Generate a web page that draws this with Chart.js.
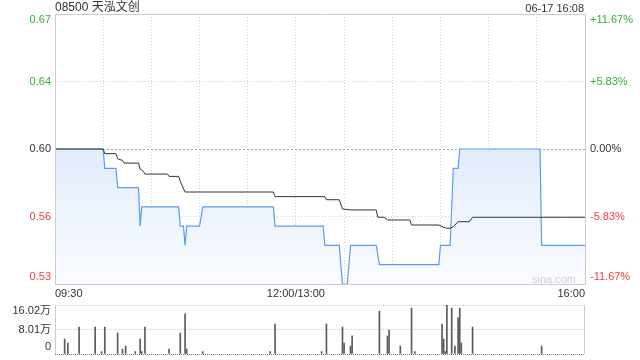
<!DOCTYPE html>
<html>
<head>
<meta charset="utf-8">
<script src="https://cdn.jsdelivr.net/npm/chart.js@4"></script>
<style>
  body { margin: 0; background: #fff; font-family: Arial, "Liberation Sans", "Noto Sans CJK SC", sans-serif; }
  #wrap { position: relative; width: 640px; height: 360px; overflow: hidden; }
  .txt { position: absolute; color: #333; white-space: nowrap; line-height: 14px; }
  #title { left: 55px; top: 0px; font-size: 12px; }
  #stamp { right: 56px; top: 1px; font-size: 11px; }
  #mark { left: 532px; top: 272px; font-size: 11px; color: #d0d0d0; }
  #main { position: absolute; left: 0; top: 0; }
  #vol { position: absolute; left: 0; top: 295px; }
</style>
</head>
<body>
<div id="wrap">
  <canvas id="main" width="640" height="300"></canvas>
  <canvas id="vol" width="640" height="65"></canvas>
  <div class="txt" id="title">08500 天泓文创</div>
  <div class="txt" id="stamp">06-17 16:08</div>
  <div class="txt" id="mark">sina.com</div>
</div>
<script>
// minutes since 09:30, lunch break removed (0..330)
const prevClose = 0.60;
const priceTicks = [0.53, 0.565, 0.60, 0.635, 0.67];
const priceTickLabels = ["0.53", "0.56", "0.60", "0.64", "0.67"];
const pctTickLabels = ["-11.67%", "-5.83%", "0.00%", "+5.83%", "+11.67%"];
const timeTicks = [0, 30, 60, 90, 120, 150, 180, 210, 240, 270, 300, 330];
const timeTickLabels = ["09:30", "", "", "", "", "12:00/13:00", "", "", "", "", "", "16:00"];

const priceMinutes = [0, 30, 31, 38, 39, 52, 53, 54, 77, 78, 80, 81, 82, 90, 92, 136, 137, 167, 168, 177, 179, 182, 184, 200, 202, 239, 240, 246, 248, 251, 252, 302, 303, 330];
const priceValues = [0.60, 0.60, 0.59, 0.59, 0.58, 0.58, 0.56, 0.57, 0.57, 0.56, 0.56, 0.55, 0.56, 0.56, 0.57, 0.57, 0.56, 0.56, 0.55, 0.55, 0.53, 0.53, 0.55, 0.55, 0.54, 0.54, 0.55, 0.55, 0.59, 0.59, 0.60, 0.60, 0.55, 0.55];

const avgMinutes = [0, 30, 31, 38, 39, 42, 43, 52, 53, 55, 56, 70, 71, 77, 78, 81, 136, 137, 168, 169, 177, 179, 184, 200, 201, 205, 207, 221, 222, 239, 241, 244, 246, 248, 251, 258, 260, 330];
const avgValues = [0.600, 0.600, 0.5976, 0.5976, 0.5949, 0.5941, 0.5927, 0.5927, 0.5896, 0.5884, 0.5870, 0.5870, 0.5858, 0.5858, 0.5832, 0.5777, 0.5777, 0.5753, 0.5753, 0.5737, 0.5737, 0.5689, 0.5684, 0.5684, 0.5646, 0.5646, 0.5632, 0.5632, 0.5606, 0.5606, 0.5597, 0.5589, 0.5589, 0.5597, 0.5623, 0.5623, 0.5646, 0.5646];

// volume in 万 shares
const volTicks = [0, 8.01, 16.02];
const volTickLabels = ["0", "8.01万", "16.02万"];
const volMinutes = [6, 8, 15, 25, 29, 31, 39, 42, 44, 50, 53, 54, 56, 71, 78, 81, 82, 92, 134, 137, 166, 169, 179, 180, 184, 185, 202, 207, 208, 215, 222, 224, 241, 242, 243, 244, 247, 249, 251, 252, 253, 260, 303, 330];
const volValues = [4.9, 3.6, 8.8, 8.8, 0.8, 8.8, 6.9, 1.6, 2.6, 0.8, 4.9, 0.8, 8.8, 1.6, 6.9, 13.1, 1.6, 0.8, 0.8, 9.8, 0.8, 9.8, 8.8, 3.6, 2.6, 5.9, 14.0, 5.9, 7.8, 2.6, 15.0, 0.8, 9.8, 4.9, 0.8, 16.0, 15.0, 2.6, 11.8, 15.0, 3.6, 8.8, 2.6, 3.6];

const pricePoints = priceMinutes.map((m, i) => ({ x: m, y: priceValues[i] }));
const avgPoints = avgMinutes.map((m, i) => ({ x: m, y: avgValues[i] }));
const volPoints = volMinutes.map((m, i) => ({ x: m, y: volValues[i] }));

const green = "#2fb32f", red = "#f23d3d", dark = "#333";

// axis labels pinned inside the plot height, like the original
const axisText = {
  id: "axisText",
  afterDraw(chart, args, opts) {
    const { ctx, chartArea: a } = chart;
    const sc = chart.scales.y;
    ctx.save();
    ctx.font = opts.font;
    ctx.textBaseline = "middle";
    opts.ticks.forEach((v, i) => {
      let y = sc.getPixelForValue(v);
      y = Math.min(Math.max(y, a.top + 6), a.bottom - 7);
      ctx.fillStyle = opts.color(v);
      if (opts.left) { ctx.textAlign = "right"; ctx.fillText(opts.left[i], a.left - 4, y); }
      if (opts.right) { ctx.textAlign = "left"; ctx.fillText(opts.right[i], a.right + 5, y); }
    });
    ctx.restore();
  }
};

const frame = {
  id: "frame",
  afterDraw(chart, args, opts) {
    const { ctx, chartArea: a } = chart;
    ctx.save();
    ctx.strokeStyle = "#ccc";
    ctx.lineWidth = 1;
    ctx.beginPath();
    if (opts.box) {
      ctx.rect(Math.round(a.left) + 0.5, Math.round(a.top) + 0.5, Math.round(a.right - a.left), Math.round(a.bottom - a.top));
    } else {
      ctx.moveTo(Math.round(a.left) + 0.5, a.top);
      ctx.lineTo(Math.round(a.left) + 0.5, a.bottom);
      ctx.moveTo(Math.round(a.right) - 0.5, a.top);
      ctx.lineTo(Math.round(a.right) - 0.5, a.bottom);
    }
    ctx.stroke();
    ctx.restore();
  }
};

function priceColor(v) {
  if (Math.abs(v - prevClose) < 1e-6) return dark;
  return v > prevClose ? green : red;
}

new Chart(document.getElementById("main"), {
  type: "line",
  data: {
    datasets: [
      { data: avgPoints, borderColor: "#333", borderWidth: 1, pointRadius: 0, fill: false },
      {
        data: pricePoints, borderColor: "#5b9cf2", borderWidth: 1.2, pointRadius: 0, fill: "start",
        backgroundColor: (c) => {
          const ch = c.chart, a = ch.chartArea;
          if (!a) return "rgba(220,232,250,0.6)";
          const g = ch.ctx.createLinearGradient(0, ch.scales.y.getPixelForValue(prevClose), 0, a.bottom);
          g.addColorStop(0, "rgba(226,236,251,1)");
          g.addColorStop(1, "rgba(250,252,255,1)");
          return g;
        }
      }
    ]
  },
  options: {
    responsive: false,
    animation: false,
    events: [],
    layout: { padding: { top: 14 } },
    plugins: {
      legend: { display: false },
      tooltip: { enabled: false },
      axisText: { ticks: priceTicks, left: priceTickLabels, right: pctTickLabels, color: priceColor, font: "11px Arial, 'Liberation Sans', sans-serif" },
      frame: { box: true }
    },
    scales: {
      x: {
        type: "linear", min: 0, max: 330,
        afterBuildTicks: (s) => { s.ticks = timeTicks.map((v) => ({ value: v })); },
        afterFit: (s) => { s.height = 16; },
        ticks: {
          autoSkip: false, maxRotation: 0, align: "inner", padding: 3, color: dark,
          font: { size: 11, family: "Arial, 'Liberation Sans', sans-serif" },
          callback: (v, i) => timeTickLabels[i]
        },
        grid: { drawTicks: false, color: "#cfcfcf" },
        border: { display: false, dash: [1, 2] }
      },
      y: {
        min: 0.53, max: 0.67,
        afterBuildTicks: (s) => { s.ticks = priceTicks.map((v) => ({ value: v })); },
        afterFit: (s) => { s.width = 55; },
        ticks: { display: false },
        grid: { drawTicks: false, color: (c) => Math.abs(c.tick.value - prevClose) < 1e-6 ? "#aaa" : "#cfcfcf" },
        border: { display: false, dash: (c) => Math.abs(c.tick.value - prevClose) < 1e-6 ? [2, 2] : [1, 2] }
      },
      y2: {
        position: "right", min: 0.53, max: 0.67,
        afterFit: (s) => { s.width = 55; },
        ticks: { display: false },
        grid: { display: false },
        border: { display: false }
      }
    }
  },
  plugins: [axisText, frame]
});

new Chart(document.getElementById("vol"), {
  type: "bar",
  data: {
    datasets: [{ data: volPoints, backgroundColor: "#5a5a5a", barThickness: 1 }]
  },
  options: {
    responsive: false,
    animation: false,
    events: [],
    layout: { padding: { top: 10, bottom: 6 } },
    plugins: {
      legend: { display: false },
      tooltip: { enabled: false },
      axisText: { ticks: volTicks, left: volTickLabels, color: () => dark, font: "11px Arial, 'Liberation Sans', 'Noto Sans CJK SC', sans-serif" },
      frame: { box: false }
    },
    scales: {
      x: {
        type: "linear", min: 0, max: 330, offset: false,
        afterFit: (s) => { s.height = 0; },
        ticks: { display: false },
        grid: { display: false, offset: false },
        border: { display: false }
      },
      y: {
        min: 0, max: 16.02,
        afterBuildTicks: (s) => { s.ticks = volTicks.map((v) => ({ value: v })); },
        afterFit: (s) => { s.width = 55; },
        ticks: { display: false },
        grid: { drawTicks: false, color: (c) => c.tick.value === 0 ? "#777" : "#cfcfcf" },
        border: { display: false, dash: [1, 1] }
      },
      y2: {
        position: "right", min: 0, max: 16.02,
        afterFit: (s) => { s.width = 55; },
        ticks: { display: false },
        grid: { display: false },
        border: { display: false }
      }
    }
  },
  plugins: [axisText, frame]
});
</script>
</body>
</html>
